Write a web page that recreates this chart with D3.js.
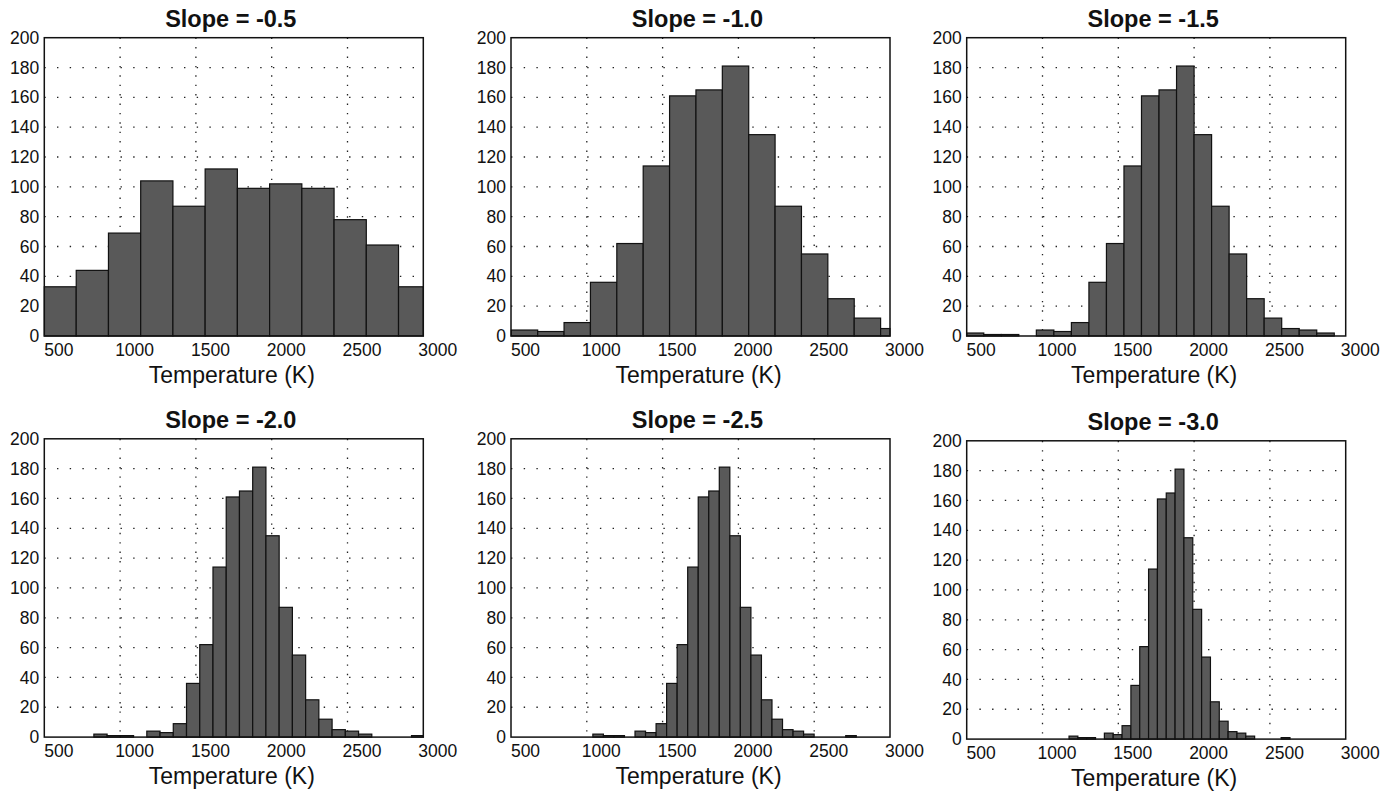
<!DOCTYPE html>
<html>
<head>
<meta charset="utf-8">
<script src="https://cdn.jsdelivr.net/npm/d3@7"></script>
<style>
  html, body { margin: 0; padding: 0; background: #fff; }
  svg { display: block; }
  text { font-family: "Liberation Sans", Arial, Helvetica, sans-serif; fill: #111; }
</style>
</head>
<body>
<svg id="chart" width="1396" height="793"></svg>
<script>
// ---- data ----
const titles = ["Slope = -0.5", "Slope = -1.0", "Slope = -1.5", "Slope = -2.0", "Slope = -2.5", "Slope = -3.0"];
const binStart = [498, 502, 497, 827, 1040, 1175];      // left edge (K) of first drawn bin
const binWidth = [212.6, 174, 115.6, 87.3, 69.5, 58.3];  // bin width (K)
const counts05 = [33, 44, 69, 104, 87, 112, 99, 102, 99, 78, 61, 33];
const counts10 = [4, 3, 9, 36, 62, 114, 161, 165, 181, 135, 87, 55, 25, 12, 5];
const counts15 = [2, 1, 1, 0, 4, 3, 9, 36, 62, 114, 161, 165, 181, 135, 87, 55, 25, 12, 5, 4, 2];
const counts20 = [2, 1, 1, 0, 4, 3, 9, 36, 62, 114, 161, 165, 181, 135, 87, 55, 25, 12, 5, 4, 2, 0, 0, 0, 1];
const counts25 = [2, 1, 1, 0, 4, 3, 9, 36, 62, 114, 161, 165, 181, 135, 87, 55, 25, 12, 5, 4, 2, 0, 0, 0, 1];
const counts30 = [2, 1, 1, 0, 4, 3, 9, 36, 62, 114, 161, 165, 181, 135, 87, 55, 25, 12, 5, 4, 2, 0, 0, 0, 1];
const allCounts = [counts05, counts10, counts15, counts20, counts25, counts30];
const xTicks = [500, 1000, 1500, 2000, 2500, 3000];
const yTicks = [0, 20, 40, 60, 80, 100, 120, 140, 160, 180, 200];
const xDomain = [500, 3000];
const yDomain = [0, 200];
const xLabel = "Temperature (K)";

// ---- layout ----
const colLeft = [44.3, 511, 966.7];
const rowTop = [37.7, 438.8];
const boxW = 379, boxH = 298.3;

const svg = d3.select("#chart");

titles.forEach((title, p) => {
  const left = colLeft[p % 3];
  const top = rowTop[Math.floor(p / 3)] + (p === 5 ? 2 : 0);
  const g = svg.append("g").attr("transform", `translate(${left},${top})`);

  const x = d3.scaleLinear().domain(xDomain).range([0, boxW]);
  const y = d3.scaleLinear().domain(yDomain).range([boxH, 0]);

  // grid
  g.append("g").selectAll("line.hg")
    .data(yTicks.filter(v => v > yDomain[0] && v < yDomain[1]))
    .join("line")
    .attr("x1", 0).attr("x2", boxW)
    .attr("y1", d => y(d)).attr("y2", d => y(d))
    .attr("stroke", "#222").attr("stroke-width", 1.3)
    .attr("stroke-dasharray", "1.4,11.3");
  g.append("g").selectAll("line.vg")
    .data(xTicks.filter(v => v > xDomain[0] && v < xDomain[1]))
    .join("line")
    .attr("x1", d => x(d)).attr("x2", d => x(d))
    .attr("y1", 0).attr("y2", boxH)
    .attr("stroke", "#222").attr("stroke-width", 1.3)
    .attr("stroke-dasharray", "1.4,8");

  // bars
  const counts = allCounts[p];
  const bins = counts.map((c, i) => {
    const a = binStart[p] + i * binWidth[p];
    const b = a + binWidth[p];
    return { x0: Math.max(xDomain[0], a), x1: Math.min(xDomain[1], b), c };
  }).filter(d => d.x1 > d.x0);

  g.append("g").selectAll("rect")
    .data(bins)
    .join("rect")
    .attr("x", d => x(d.x0))
    .attr("width", d => x(d.x1) - x(d.x0))
    .attr("y", d => y(d.c))
    .attr("height", d => y(0) - y(d.c))
    .attr("fill", "#595959")
    .attr("stroke", "#111")
    .attr("stroke-width", 1.2);

  // box
  g.append("rect")
    .attr("x", 0).attr("y", 0).attr("width", boxW).attr("height", boxH)
    .attr("fill", "none").attr("stroke", "#111").attr("stroke-width", 1.5);

  // y axis
  const ya = g.append("g").call(d3.axisLeft(y).tickValues(yTicks).tickSize(0).tickPadding(5));
  ya.select(".domain").remove();
  ya.selectAll("text").style("font-size", "17.5px").attr("fill", "#111");

  // x axis
  const xa = g.append("g").attr("transform", `translate(0,${boxH})`)
    .call(d3.axisBottom(x).tickValues(xTicks).tickFormat(d3.format("d")).tickSize(0).tickPadding(7.5));
  xa.select(".domain").remove();
  xa.selectAll("text").style("font-size", "17.5px").attr("dx", 14).attr("fill", "#111");

  // title
  g.append("text")
    .attr("x", boxW / 2 - 3).attr("y", -11)
    .attr("text-anchor", "middle")
    .style("font-size", "23.5px").style("font-weight", "bold")
    .text(title);

  // x label
  g.append("text")
    .attr("x", boxW / 2 - 2).attr("y", boxH + 47)
    .attr("text-anchor", "middle")
    .style("font-size", "23px")
    .text(xLabel);
});
</script>
</body>
</html>
